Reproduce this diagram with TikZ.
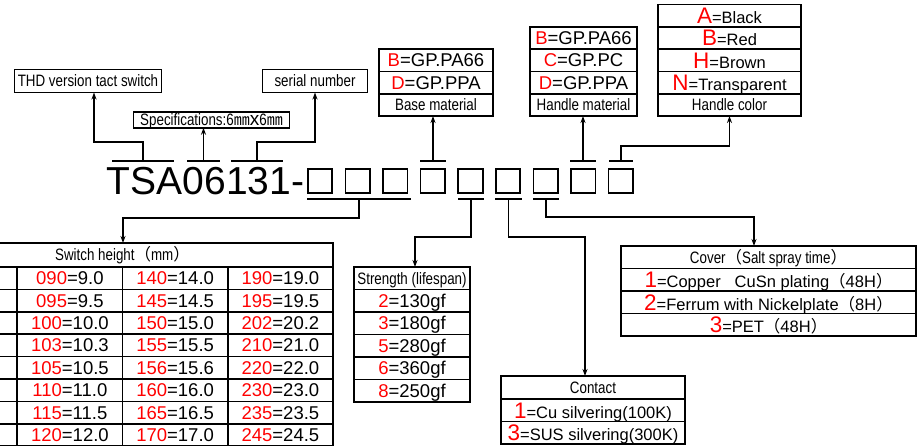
\documentclass[tikz,border=0pt]{standalone}
\usepackage{fontspec}
\setmainfont{Liberation Sans}
\newfontfamily\narrow[FakeStretch=0.81]{Liberation Sans}
\newfontfamily\cjk{Noto Sans CJK SC}
\usetikzlibrary{arrows.meta,positioning}
\newcommand\kd[1]{\textcolor{red}{#1}}
\newcommand\kb[1]{{\fontsize{22.5}{23}\selectfont\textcolor{red}{#1}}}
\newcommand\smm{{\cjk\fontsize{16}{16}\selectfont ㎜}}
\newcommand\lp{{\cjk （}}
\newcommand\rp{{\cjk ）}}

\begin{document}
\begin{tikzpicture}[x=1pt,y=-1pt,line width=1.7pt,line join=miter,>={Stealth[length=7pt,width=5pt]},
	box/.style={draw,inner sep=0pt,outer sep=0pt,minimum height=22.3pt,text depth=0pt},
	lab/.style={box,text height=12pt,font=\narrow\fontsize{16.5}{18}\selectfont},
	val/.style={box,text height=13.2pt,font=\fontsize{18.5}{20}\selectfont},
	big/.style={box,text height=16.1pt,font=\fontsize{16.5}{18}\selectfont},
	sq/.style={draw,inner sep=0pt,outer sep=0pt,minimum size=24.5pt}]
	\useasboundingbox (0,0) rectangle (921,446);
	
	%% nhan phia tren
	\node[lab,minimum width=147,minimum height=23] (thd) at (88,81) {THD version tact switch};
	\node[lab,minimum width=156,minimum height=15.5] (spec) at (211.5,120) {Specifications:6\smm{\rmfamily\fontsize{19}{19}\selectfont x}6\smm};
	\node[lab,minimum width=105,minimum height=23] (serial) at (315,81) {serial number};
	
	\node[val,minimum width=114] (bm1) at (436,60.25) {\kd{B}=GP.PA66};
	\node[val,minimum width=114,below=0pt of bm1] (bm2) {\kd{D}=GP.PPA};
	\node[lab,minimum width=114,below=0pt of bm2] (bm3) {Base material};
	
	\node[val,minimum width=107] (hm1) at (583.5,37.95) {\kd{B}=GP.PA66};
	\node[val,minimum width=107,below=0pt of hm1] (hm2) {\kd{C}=GP.PC};
	\node[val,minimum width=107,below=0pt of hm2] (hm3) {\kd{D}=GP.PPA};
	\node[lab,minimum width=107,below=0pt of hm3] (hm4) {Handle material};
	
	\node[big,minimum width=143] (hc1) at (729.5,15.65) {\kb{A}=Black};
	\node[big,minimum width=143,below=0pt of hc1] (hc2) {\kb{B}=Red};
	\node[big,minimum width=143,below=0pt of hc2] (hc3) {\kb{H}=Brown};
	\node[big,minimum width=143,below=0pt of hc3] (hc4) {\kb{N}=Transparent};
	\node[lab,minimum width=143,below=0pt of hc4] (hc5) {Handle color};
	
	%% ma san pham
	\node[anchor=base west,inner sep=0pt,font=\fontsize{39}{39}\selectfont] (code) at (106,195) {TSA06131-};
	\foreach \i in {1,...,9}
	\node[sq] (s\i) at ({320+37.6*(\i-1)},181) {};
	\foreach \n/\a/\b in {1/112/174,2/187/220,3/231/283,4/420/446,8/570/596,9/609/633}
	\draw (\a,161) -- coordinate[midway] (m\n) (\b,161);
	\foreach \n/\a/\b in {1/307/411,5/458/484,6/495/522,7/533/559}
	\draw (\a,199) -- coordinate[midway] (u\n) (\b,199);
	
	%% nhan phia duoi
	\node[lab,minimum width=421,minimum height=24] (sh) at (122.5,255) {Switch height\lp mm\rp};
	\foreach \p/\q/\u/\v/\w/\z [count=\r] in {090/9.0/140/14.0/190/19.0,095/9.5/145/14.5/195/19.5,100/10.0/150/15.0/202/20.2,103/10.3/155/15.5/210/21.0,105/10.5/156/15.6/220/22.0,110/11.0/160/16.0/230/23.0,115/11.5/165/16.5/235/23.5,120/12.0/170/17.0/245/24.5}{
		\node[val,minimum width=105.25,minimum height=22.4] (h\r0) at (-35.4,{255.8+22.4*\r}) {};
		\node[val,minimum width=105.25,minimum height=22.4] (h\r1) at (69.9,{255.8+22.4*\r}) {\kd{\p}=\q};
		\node[val,minimum width=105.25,minimum height=22.4] (h\r2) at (175.1,{255.8+22.4*\r}) {\kd{\u}=\v};
		\node[val,minimum width=105.25,minimum height=22.4] (h\r3) at (280.4,{255.8+22.4*\r}) {\kd{\w}=\z};
	}
	
	\node[lab,minimum width=116,minimum height=22.5] (st0) at (412,278.25) {Strength (lifespan)};
	\foreach \d/\g [count=\i] in {2/130,3/180,5/280,6/360,8/250}
	\node[val,minimum width=116,minimum height=22.5] (st\i) at (412,{278.25+22.5*\i}) {\kd{\d}=\g gf};
	
	\node[lab,minimum width=184,minimum height=22.7] (ct0) at (593,387.35) {Contact};
	\node[big,minimum width=184,minimum height=22.7,below=0pt of ct0] (ct1) {\kb{1}=Cu silvering(100K)};
	\node[big,minimum width=184,minimum height=22.7,below=0pt of ct1] (ct2) {\kb{3}=SUS silvering(300K)};
	
	\node[lab,minimum width=295,minimum height=22.5] (cv0) at (768.5,257.25) {Cover\lp Salt spray time\rp};
	\node[big,minimum width=295,minimum height=22.5,below=0pt of cv0] (cv1) {\kb{1}=Copper\hspace{14pt}CuSn plating\lp 48H\rp};
	\node[big,minimum width=295,minimum height=22.5,below=0pt of cv1] (cv2) {\kb{2}=Ferrum with Nickelplate\lp 8H\rp};
	\node[big,minimum width=295,minimum height=22.5,below=0pt of cv2] (cv3) {\kb{3}=PET\lp 48H\rp};
	
	%% duong noi
	\path (94,142) coordinate (k1) (315,142) coordinate (k3) (729.5,146) coordinate (k9)
	(123,218) coordinate (k0) (415,237) coordinate (k5) (585,237) coordinate (k6) (754,217) coordinate (k7);
	\draw[->] (m1) |- (k1) -- (k1 |- thd.south);
	\draw[->] (m2) -- (m2 |- spec.south);
	\draw[->] (m3) |- (k3) -- (k3 |- serial.south);
	\draw[->] (m4) -- (m4 |- bm3.south);
	\draw[->] (m8) -- (m8 |- hm4.south);
	\draw[->] (m9) |- (k9) -- (k9 |- hc5.south);
	\draw[->] (u1) |- (k0) -- (k0 |- sh.north);
	\draw[->] (u5) |- (k5) -- (k5 |- st0.north);
	\draw[->] (u6) |- (k6) -- (k6 |- ct0.north);
	\draw[->] (u7) |- (k7) -- (k7 |- cv0.north);
\end{tikzpicture}
\end{document}
